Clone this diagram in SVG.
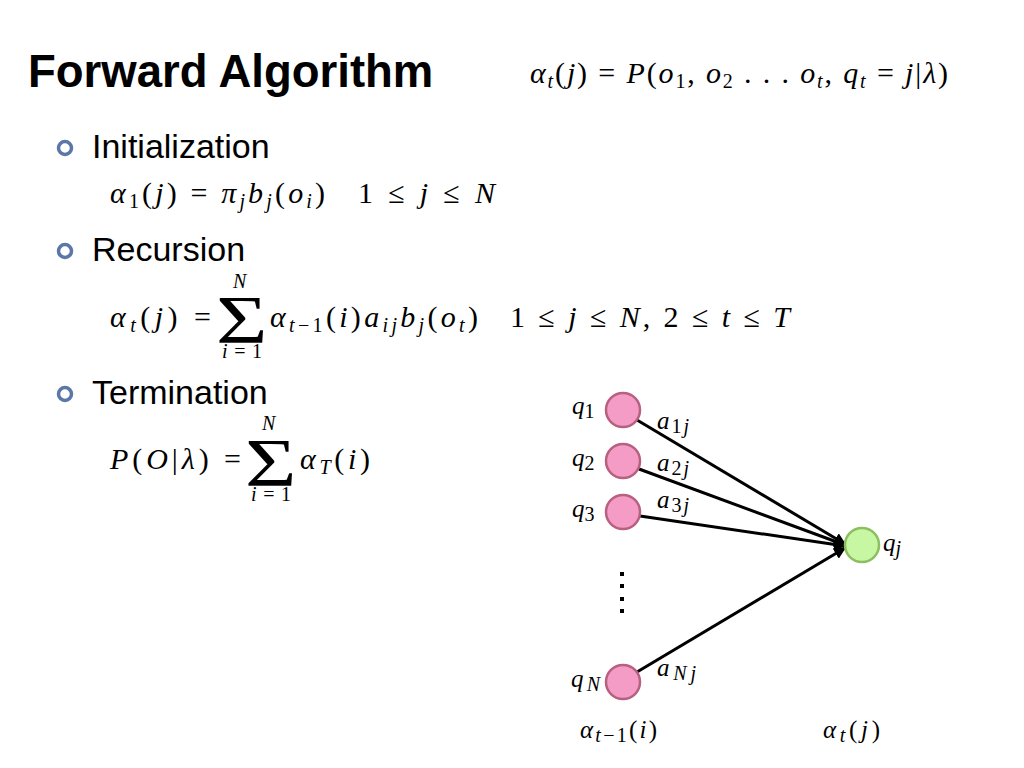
<svg xmlns="http://www.w3.org/2000/svg" width="1024" height="768" viewBox="0 0 1024 768">
<defs>
<style>
.title{font-family:"Liberation Sans",Arial,sans-serif;font-weight:bold;font-size:45.5px;fill:#000}
.bul{font-family:"Liberation Sans",Arial,sans-serif;font-size:34px;fill:#000}
.m{font-family:"Liberation Serif","Times New Roman",serif;font-style:italic;font-size:30px;fill:#000}
.u{font-style:normal}
.s{font-size:20px}
.sig{font-family:"Liberation Serif","Times New Roman",serif;font-style:normal;font-size:68px;fill:#000}
.ml{font-family:"Liberation Serif","Times New Roman",serif;font-style:italic;font-size:25px;fill:#000}
.bullet{fill:none;stroke:#5b77a8;stroke-width:3.5}
.pink{fill:#f59cc6;stroke:#b8607f;stroke-width:2.5}
.green{fill:#c8f7a3;stroke:#8cbf5f;stroke-width:2.5}
.edge{stroke:#000;stroke-width:3;fill:none}
</style>
<marker id="arr" viewBox="0 0 10 10" refX="9" refY="5" markerWidth="4" markerHeight="4" orient="auto" markerUnits="strokeWidth">
<path d="M0,0 L10,5 L0,10 z" fill="#000"/>
</marker>
</defs>
<rect width="1024" height="768" fill="#fff"/>

<text class="title" x="28" y="87">Forward Algorithm</text>
<text class="m" x="530" y="83" textLength="418" lengthAdjust="spacing">α<tspan class="s" dy="5">t</tspan><tspan class="u" dy="-5">(</tspan>j<tspan class="u">) = </tspan>P<tspan class="u">(</tspan>o<tspan class="s u" dy="5">1</tspan><tspan class="u" dy="-5">, </tspan>o<tspan class="s u" dy="5">2</tspan><tspan class="u" dy="-5"> . . . </tspan>o<tspan class="s" dy="5">t</tspan><tspan class="u" dy="-5">, </tspan>q<tspan class="s" dy="5">t</tspan><tspan class="u" dy="-5"> = </tspan>j<tspan class="u">|</tspan>λ<tspan class="u">)</tspan></text>

<circle class="bullet" cx="65" cy="148" r="6.5"/>
<text class="bul" x="92" y="158">Initialization</text>
<text class="m" x="110" y="203" textLength="215" lengthAdjust="spacing">α<tspan class="s u" dy="5">1</tspan><tspan class="u" dy="-5">(</tspan>j<tspan class="u">) = </tspan>π<tspan class="s" dy="5">j</tspan><tspan dy="-5">b</tspan><tspan class="s" dy="5">j</tspan><tspan class="u" dy="-5">(</tspan>o<tspan class="s" dy="5">i</tspan><tspan class="u" dy="-5">)</tspan></text>
<text class="m" x="358" y="203" textLength="137" lengthAdjust="spacing"><tspan class="u">1 ≤ </tspan>j<tspan class="u"> ≤ </tspan>N</text>

<circle class="bullet" cx="65" cy="251" r="6.5"/>
<text class="bul" x="92" y="261">Recursion</text>
<text class="m" x="110" y="327" textLength="101" lengthAdjust="spacing">α<tspan class="s" dy="5">t</tspan><tspan class="u" dy="-5">(</tspan>j<tspan class="u">) =</tspan></text>
<text class="sig" transform="translate(216,342) scale(1.3,1)" x="0" y="0">Σ</text>
<text class="m s" x="233" y="288">N</text>
<text class="m s" x="222" y="358" textLength="40" lengthAdjust="spacing">i<tspan class="u">=1</tspan></text>
<text class="m" x="270" y="327" textLength="208" lengthAdjust="spacing">α<tspan class="s" dy="5">t</tspan><tspan class="s u">−1</tspan><tspan class="u" dy="-5">(</tspan>i<tspan class="u">)</tspan>a<tspan class="s" dy="5">ij</tspan><tspan dy="-5">b</tspan><tspan class="s" dy="5">j</tspan><tspan class="u" dy="-5">(</tspan>o<tspan class="s" dy="5">t</tspan><tspan class="u" dy="-5">)</tspan></text>
<text class="m" x="510" y="327" textLength="280" lengthAdjust="spacing"><tspan class="u">1 ≤ </tspan>j<tspan class="u"> ≤ </tspan>N<tspan class="u">, 2 ≤ </tspan>t<tspan class="u"> ≤ </tspan>T</text>

<circle class="bullet" cx="65" cy="394" r="6.5"/>
<text class="bul" x="92" y="404">Termination</text>
<text class="m" x="110" y="469" textLength="131" lengthAdjust="spacing">P<tspan class="u">(</tspan>O<tspan class="u">|</tspan>λ<tspan class="u">) =</tspan></text>
<text class="sig" transform="translate(245,485) scale(1.3,1)" x="0" y="0">Σ</text>
<text class="m s" x="262" y="430">N</text>
<text class="m s" x="251" y="501" textLength="40" lengthAdjust="spacing">i<tspan class="u">=1</tspan></text>
<text class="m" x="300" y="469" textLength="70" lengthAdjust="spacing">α<tspan class="s" dy="5">T</tspan><tspan class="u" dy="-5">(</tspan>i<tspan class="u">)</tspan></text>

<g id="connectors">
<line class="edge" x1="637" y1="420" x2="845" y2="544" marker-end="url(#arr)"/>
<line class="edge" x1="639" y1="469" x2="845" y2="545" marker-end="url(#arr)"/>
<line class="edge" x1="640" y1="516" x2="845" y2="546" marker-end="url(#arr)"/>
<line class="edge" x1="637" y1="672" x2="845" y2="548" marker-end="url(#arr)"/>
<text class="ml" x="657" y="429" textLength="32" lengthAdjust="spacing">a<tspan class="s u" dy="4">1</tspan><tspan class="s">j</tspan></text>
<text class="ml" x="657" y="471" textLength="32" lengthAdjust="spacing">a<tspan class="s u" dy="4">2</tspan><tspan class="s">j</tspan></text>
<text class="ml" x="657" y="508" textLength="32" lengthAdjust="spacing">a<tspan class="s u" dy="4">3</tspan><tspan class="s">j</tspan></text>
<text class="ml" x="657" y="676" textLength="39" lengthAdjust="spacing">a<tspan class="s" dy="4">Nj</tspan></text>
</g>

<g id="q1"><circle class="pink" cx="623" cy="410" r="17"/><text class="ml" x="572" y="414">q<tspan class="s u" dy="4">1</tspan></text></g>
<g id="q2"><circle class="pink" cx="623" cy="461" r="17"/><text class="ml" x="572" y="466">q<tspan class="s u" dy="4">2</tspan></text></g>
<g id="q3"><circle class="pink" cx="623" cy="512" r="17"/><text class="ml" x="572" y="517">q<tspan class="s u" dy="4">3</tspan></text></g>
<g id="dots" fill="#000"><rect x="620" y="572" width="4" height="4"/><rect x="620" y="584" width="4" height="4"/><rect x="620" y="597" width="4" height="4"/><rect x="620" y="609" width="4" height="4"/></g>
<g id="qN"><circle class="pink" cx="623" cy="682" r="17"/><text class="ml" x="571" y="687" textLength="29" lengthAdjust="spacing">q<tspan class="s" dy="4">N</tspan></text></g>
<g id="qj"><circle class="green" cx="862" cy="545" r="17"/><text class="ml" x="883" y="551">q<tspan class="s" dy="4">j</tspan></text></g>

<text class="ml" x="580" y="738" textLength="77" lengthAdjust="spacing">α<tspan class="s" dy="4">t</tspan><tspan class="s u">−1</tspan><tspan class="u" dy="-4">(</tspan>i<tspan class="u">)</tspan></text>
<text class="ml" x="823" y="738" textLength="57" lengthAdjust="spacing">α<tspan class="s" dy="4">t</tspan><tspan class="u" dy="-4">(</tspan>j<tspan class="u">)</tspan></text>
</svg>
